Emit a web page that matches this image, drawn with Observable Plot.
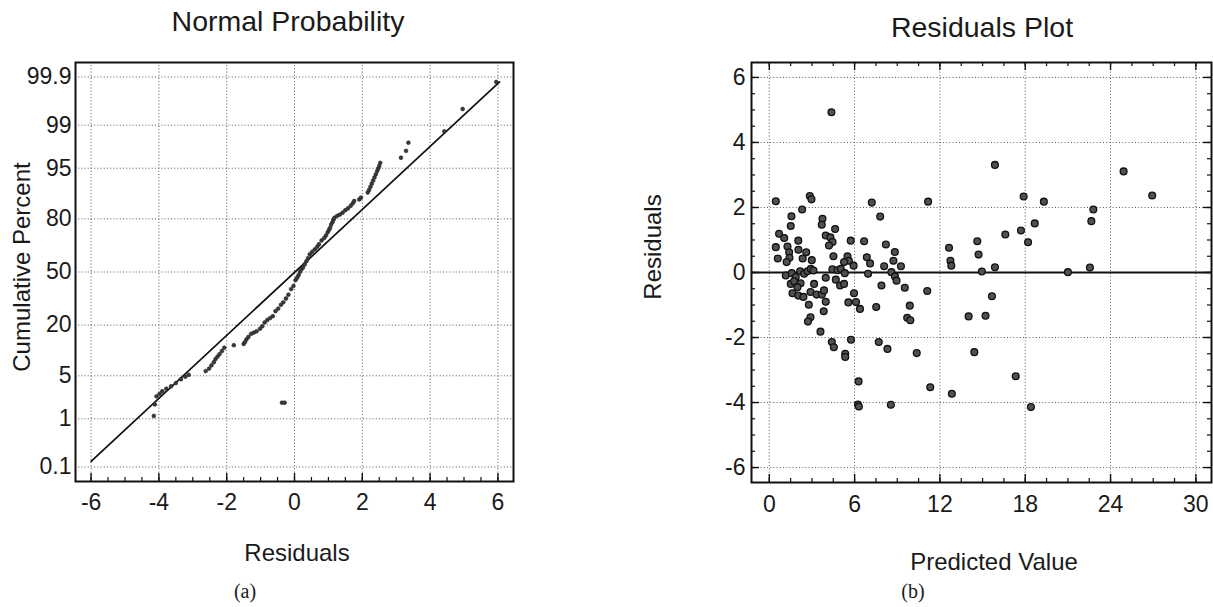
<!DOCTYPE html>
<html><head><meta charset="utf-8">
<script src="https://cdn.jsdelivr.net/npm/d3@7"></script>
<script src="https://cdn.jsdelivr.net/npm/@observablehq/plot@0.6"></script>
<style>
html,body{margin:0;padding:0;background:#fff;}
body{width:1213px;height:607px;overflow:hidden;position:relative;font-family:"Liberation Sans",Arial,sans-serif;color:#1a1a1a;}
.abs{position:absolute;white-space:nowrap;line-height:1;}
.title{font-size:28.5px;transform:translateX(-50%);}
.xlab{font-size:24px;transform:translateX(-50%);}
.ylab{font-size:24px;transform:translate(-50%,-50%) rotate(-90deg);}
.cap{font-family:"Liberation Serif","DejaVu Serif",serif;font-size:20px;transform:translateX(-50%);}
#left,#right{position:absolute;top:0;}
</style></head><body>
<div id="left" style="left:0"></div>
<div id="right" style="left:606px"></div>
<div class="abs title" style="left:288px;top:7px">Normal Probability</div>
<div class="abs title" style="left:982px;top:13px">Residuals Plot</div>
<div class="abs xlab" style="left:297px;top:541px">Residuals</div>
<div class="abs xlab" style="left:994px;top:550px">Predicted Value</div>
<div class="abs ylab" style="left:22px;top:267px">Cumulative Percent</div>
<div class="abs ylab" style="left:653px;top:247px">Residuals</div>
<div class="abs cap" style="left:245px;top:581px">(a)</div>
<div class="abs cap" style="left:913px;top:581px">(b)</div>
<script>
// ---------- data: normal probability plot (a) ----------
const probTicks = [0.1, 1, 5, 20, 50, 80, 95, 99, 99.9];
const resTicksA = [-6, -4, -2, 0, 2, 4, 6];
const probRes = [
 -4.15,-4.12,-4.07,-3.98,-3.90,-3.78,-3.64,-3.50,-3.35,-3.22,-3.12,-0.37,-0.29,
 -2.62,-2.52,-2.45,-2.38,-2.33,-2.27,-2.21,-2.14,-2.07,-1.79,
 -1.50,-1.46,-1.42,-1.36,-1.28,-1.20,-1.12,-1.02,-0.95,-0.88,-0.80,-0.72,-0.64,-0.56,-0.48,-0.40,-0.33,-0.25,-0.18,-0.10,-0.03,
 0.03,0.08,0.12,0.16,0.20,0.25,0.30,0.35,0.40,0.45,0.52,0.60,0.67,0.72,0.80,0.88,0.93,0.98,1.02,1.05,1.08,1.12,1.15,1.18,
 1.26,1.34,1.42,1.50,1.58,1.66,1.72,1.76,1.91,1.96,
 2.16,2.20,2.24,2.28,2.32,2.36,2.40,2.44,2.47,2.50,2.53,
 3.14,3.29,3.36,4.42,4.96,5.95
];
const probPct = [
 1.13,1.79,2.44,2.68,2.94,3.22,3.51,3.92,4.46,4.85,5.16,1.92,1.92,
 5.82,6.30,6.94,7.64,8.38,9.01,9.68,10.56,11.51,12.30,
 12.71,13.35,14.23,15.15,16.35,16.85,17.36,18.41,19.49,21.19,22.36,23.27,24.20,26.76,28.10,30.15,31.56,33.72,35.94,39.36,41.29,
 44.83,46.41,48.01,50.0,51.60,52.79,54.78,56.75,58.71,61.03,62.55,64.06,65.54,67.00,69.15,70.54,71.90,73.57,74.86,75.80,77.34,78.52,79.67,80.51,
 81.33,81.86,82.64,83.65,84.38,85.31,86.21,86.97,87.49,88.10,
 89.62,90.32,91.15,91.92,92.65,93.32,93.94,94.52,94.95,95.35,95.82,
 96.49,97.26,97.98,98.71,99.51,99.87
];
const fitRes = [-6.0, 6.05];
const fitPct = [0.135, 99.87];

// ---------- data: residuals plot (b) ----------
const predTicks = [0, 6, 12, 18, 24, 30];
const residTicks = [-6, -4, -2, 0, 2, 4, 6];
const predicted = [
 0.46,4.37,2.85,2.97,2.31,1.56,1.51,0.69,1.05,0.46,0.60,1.28,1.40,1.42,1.22,2.04,2.05,2.35,2.60,2.99,
 3.74,3.69,4.63,3.97,4.30,4.45,4.20,4.51,5.73,5.50,5.60,5.93,5.26,6.67,6.86,7.09,7.21,7.80,8.20,8.83,
 8.73,8.08,9.26,11.17,12.64,12.74,12.80,14.63,14.72,14.95,15.87,15.87,16.60,17.70,17.89,18.20,18.67,19.31,21.0,22.55,
 22.65,22.79,24.92,26.93,
 1.16,1.58,1.86,2.17,2.45,2.69,2.92,3.11,3.97,4.44,4.80,5.03,5.31,6.95,8.59,8.84,8.95,
 1.51,1.74,2.20,1.98,3.15,4.68,4.98,5.26,7.89,9.53,11.11,1.63,2.04,2.40,2.90,3.33,3.70,3.85,3.97,
 2.78,3.83,2.90,2.72,3.60,4.40,4.54,5.34,5.34,5.75,5.96,5.56,6.10,6.38,7.52,7.70,8.31,9.88,9.70,9.92,
 10.37,6.28,6.24,6.30,8.55,11.32,12.84,14.02,15.21,14.42,15.66,17.33,18.40
];
const residuals = [
 2.19,4.93,2.35,2.25,1.94,1.73,1.43,1.19,1.06,0.78,0.43,0.80,0.62,0.45,0.32,0.98,0.70,0.43,0.62,0.38,
 1.65,1.47,1.34,1.14,1.08,0.94,0.83,0.50,0.98,0.50,0.36,0.21,0.32,0.96,0.47,0.28,2.15,1.72,0.86,0.63,
 0.36,0.19,0.19,2.18,0.76,0.36,0.21,0.96,0.55,0.03,0.16,3.31,1.17,1.29,2.34,0.93,1.51,2.18,0.01,0.15,
 1.58,1.94,3.11,2.37,
 -0.09,-0.02,-0.14,0.04,-0.04,0.04,0.11,0.06,-0.16,0.10,0.07,0.11,-0.02,-0.04,0.01,-0.12,-0.25,
 -0.35,-0.27,-0.33,-0.45,-0.35,-0.22,-0.40,-0.35,-0.40,-0.47,-0.57,-0.64,-0.71,-0.75,-0.60,-0.68,-0.68,-0.55,-0.90,
 -0.99,-1.19,-1.38,-1.51,-1.82,-2.14,-2.30,-2.50,-2.60,-2.07,-0.64,-0.92,-0.91,-1.12,-1.06,-2.14,-2.35,-1.02,-1.39,-1.47,
 -2.48,-3.35,-4.06,-4.12,-4.07,-3.53,-3.73,-1.35,-1.33,-2.45,-0.73,-3.19,-4.14
];

// inverse standard normal CDF (probability-paper scale transform)
function probit(p){
 const a=[-3.969683028665376e+01,2.209460984245205e+02,-2.759285104469687e+02,1.383577518672690e+02,-3.066479806614716e+01,2.506628277459239e+00];
 const b=[-5.447609879822406e+01,1.615858368580409e+02,-1.556989798598866e+02,6.680131188771972e+01,-1.328068155288572e+01];
 const c=[-7.784894002430293e-03,-3.223964580411365e-01,-2.400758277161838e+00,-2.549732539343734e+00,4.374664141464968e+00,2.938163982698783e+00];
 const d=[7.784695709041462e-03,3.224671290700398e-01,2.445134137142996e+00,3.754408661907416e+00];
 const pl=0.02425, ph=1-pl; let q,r;
 if(p<pl){q=Math.sqrt(-2*Math.log(p));return (((((c[0]*q+c[1])*q+c[2])*q+c[3])*q+c[4])*q+c[5])/((((d[0]*q+d[1])*q+d[2])*q+d[3])*q+1);}
 if(p<=ph){q=p-0.5;r=q*q;return (((((a[0]*r+a[1])*r+a[2])*r+a[3])*r+a[4])*r+a[5])*q/(((((b[0]*r+b[1])*r+b[2])*r+b[3])*r+b[4])*r+1);}
 q=Math.sqrt(-2*Math.log(1-p));return -(((((c[0]*q+c[1])*q+c[2])*q+c[3])*q+c[4])*q+c[5])/((((d[0]*q+d[1])*q+d[2])*q+d[3])*q+1);
}

const probPts = probRes.map((r,i)=>({r, z: probit(probPct[i]/100)}));
const fitPts = fitRes.map((r,i)=>({r, z: probit(fitPct[i]/100)}));
const zTicks = probTicks.map(p=>probit(p/100));
const zLabel = new Map(zTicks.map((z,i)=>[z, String(probTicks[i])]));
const residPts = predicted.map((x,i)=>({x, y: residuals[i]}));

const gridStyle = {stroke:"#222", strokeOpacity:0.75, strokeDasharray:"1,2.2", strokeWidth:1};
const FONT = "'Liberation Sans', Arial, sans-serif";
const fontStyle = {fontFamily: FONT, fontSize:"23px", color:"#1a1a1a", background:"transparent", overflow:"visible"};
const axisText = {fontSize: 23, fontFamily: FONT, fill: "#1a1a1a"};

// ----- left panel -----
const LW=606, LH=607, LmL=75, LmR=93, LmT=62, LmB=126;
const LinH = LH-LmT-LmB;
const leftMinor = d3.range(-6, 6.01, 0.5);
const left = Plot.plot({
  width: LW, height: LH,
  marginLeft: LmL, marginRight: LmR, marginTop: LmT, marginBottom: LmB,
  x: {domain: [-6.46, 6.46]},
  y: {domain: [-3.32, 3.32]},
  style: fontStyle,
  marks: [
    Plot.gridX(resTicksA, gridStyle),
    Plot.gridY(zTicks, gridStyle),
    Plot.tickX(leftMinor, {x: d=>d, insetTop: LinH-4, stroke:"#111", strokeWidth:1.2}),
    Plot.tickX(resTicksA, {x: d=>d, insetTop: LinH-8, stroke:"#111", strokeWidth:1.4}),
    Plot.line(fitPts, {x:"r", y:"z", stroke:"#111", strokeWidth:1.7}),
    Plot.dot(probPts, {x:"r", y:"z", r:1.9, fill:"#3a3a3a", stroke:"#222", strokeWidth:0.6}),
    Plot.axisX(resTicksA, {...axisText, tickSize:0, tickPadding:12, tickFormat: d=>String(d), label:null}),
    Plot.axisY(zTicks, {...axisText, tickSize:0, tickPadding:4, tickFormat: z=>zLabel.get(z), label:null}),
    Plot.frame({stroke:"#111", strokeWidth:2})
  ]
});
document.getElementById("left").appendChild(left);

// ----- right panel -----
const RW=607, RH=607, RmL=145, RmR=2, RmT=62, RmB=125;
const RinW = RW-RmL-RmR, RinH = RH-RmT-RmB;
const rMinorY = d3.range(-6, 6.01, 0.5);
const rMinorX = d3.range(0, 30.01, 1.5);
const right = Plot.plot({
  width: RW, height: RH,
  marginLeft: RmL, marginRight: RmR, marginTop: RmT, marginBottom: RmB,
  x: {domain: [-1.25, 31.1]},
  y: {domain: [-6.46, 6.46]},
  style: fontStyle,
  marks: [
    Plot.gridX(predTicks, gridStyle),
    Plot.gridY(residTicks, gridStyle),
    Plot.tickY(rMinorY, {y:d=>d, insetRight: RinW-4, stroke:"#111", strokeWidth:1.2}),
    Plot.tickY(residTicks, {y:d=>d, insetRight: RinW-8, stroke:"#111", strokeWidth:1.4}),
    Plot.tickY(rMinorY, {y:d=>d, insetLeft: RinW-4, stroke:"#111", strokeWidth:1.2}),
    Plot.tickY(residTicks, {y:d=>d, insetLeft: RinW-8, stroke:"#111", strokeWidth:1.4}),
    Plot.tickX(rMinorX, {x:d=>d, insetTop: RinH-4, stroke:"#111", strokeWidth:1.2}),
    Plot.tickX(predTicks, {x:d=>d, insetTop: RinH-8, stroke:"#111", strokeWidth:1.4}),
    Plot.tickX(rMinorX, {x:d=>d, insetBottom: RinH-4, stroke:"#111", strokeWidth:1.2}),
    Plot.tickX(predTicks, {x:d=>d, insetBottom: RinH-8, stroke:"#111", strokeWidth:1.4}),
    Plot.ruleY([0], {stroke:"#111", strokeWidth:1.8}),
    Plot.dot(residPts, {x:"x", y:"y", r:3.4, fill:"#505050", stroke:"#111", strokeWidth:1.3}),
    Plot.axisX(predTicks, {...axisText, tickSize:0, tickPadding:13, tickFormat: d=>String(d), label:null}),
    Plot.axisY(residTicks, {...axisText, tickSize:0, tickPadding:6, tickFormat: d=>String(d), label:null}),
    Plot.frame({stroke:"#111", strokeWidth:2})
  ]
});
document.getElementById("right").appendChild(right);
</script>
</body></html>
